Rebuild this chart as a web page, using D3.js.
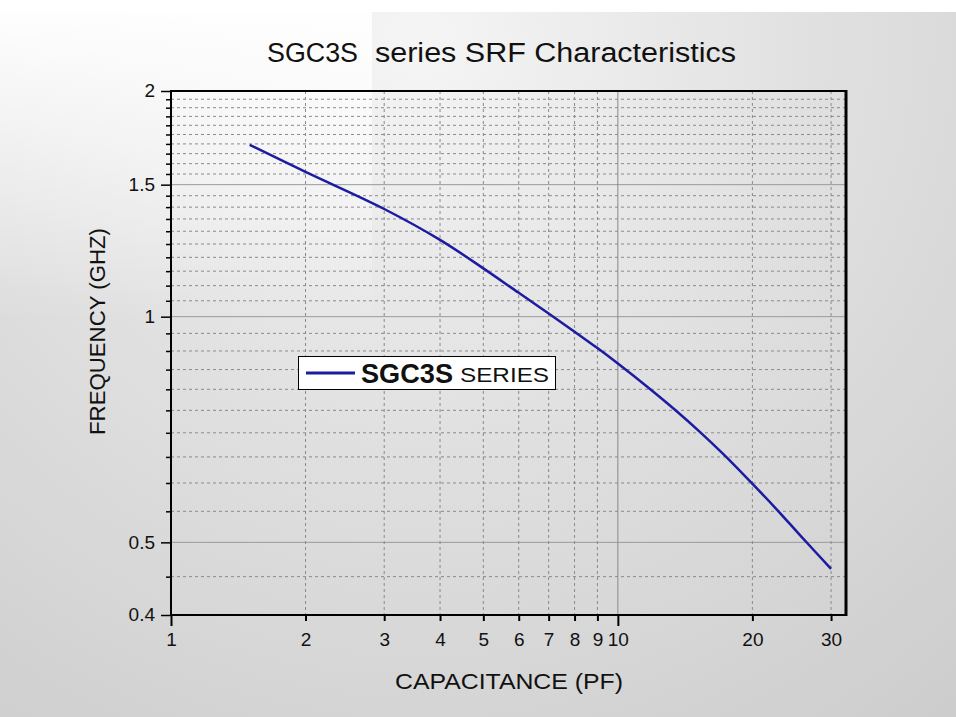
<!DOCTYPE html>
<html>
<head>
<meta charset="utf-8">
<script src="https://cdn.jsdelivr.net/npm/d3@7"></script>
<style>
  body { margin: 0; background: #fff; }
  text { font-family: "Liberation Sans", Arial, sans-serif; fill: #111; }
</style>
</head>
<body>
<svg width="956" height="717"></svg>
<script>
// values (log-log)
var capacitance = [1.5, 2, 3, 4, 5, 6, 7, 8, 9, 10, 11.8, 13.4, 15.3, 17.2, 19.4, 22.5, 25.8, 30];
var frequency   = [1.695, 1.560, 1.392, 1.266, 1.160, 1.076, 1.010, 0.955, 0.908, 0.866,
                   0.801, 0.752, 0.701, 0.656, 0.610, 0.556, 0.508, 0.461];

var xTicks = [1, 2, 3, 4, 5, 6, 7, 8, 9, 10, 20, 30];
var xMajor = [1, 10];
var yLabels = [0.4, 0.5, 1, 1.5, 2];
var yMinor = [0.45, 0.55, 0.6, 0.65, 0.7, 0.75, 0.8, 0.85, 0.9, 0.95,
              1.05, 1.1, 1.15, 1.2, 1.25, 1.3, 1.35, 1.4, 1.45,
              1.55, 1.6, 1.65, 1.7, 1.75, 1.8, 1.85, 1.9, 1.95];

var svg = d3.select("svg"),
    margin = {top: 91, right: 110, bottom: 102, left: 171},
    width = svg.attr("width") - margin.left - margin.right,
    height = svg.attr("height") - margin.top - margin.bottom;

// background
var defs = svg.append("defs");
var rg = defs.append("radialGradient").attr("id", "bg")
    .attr("gradientUnits", "userSpaceOnUse")
    .attr("cx", 420).attr("cy", 40).attr("r", 900);
rg.append("stop").attr("offset", 0).attr("stop-color", "#f5f5f5");
rg.append("stop").attr("offset", 0.45).attr("stop-color", "#e0e0e0");
rg.append("stop").attr("offset", 1).attr("stop-color", "#cbcbcb");
var lg = defs.append("linearGradient").attr("id", "fadeTop")
    .attr("x1", 0).attr("y1", 0).attr("x2", 0).attr("y2", 1);
lg.append("stop").attr("offset", 0).attr("stop-color", "#fff").attr("stop-opacity", 1);
lg.append("stop").attr("offset", 1).attr("stop-color", "#fff").attr("stop-opacity", 0);

svg.append("rect").attr("width", 956).attr("height", 717).attr("fill", "url(#bg)");
svg.append("rect").attr("width", 372).attr("height", 320).attr("fill", "url(#fadeTop)");
svg.append("rect").attr("width", 956).attr("height", 12).attr("fill", "#fff");

var g = svg.append("g").attr("transform", "translate(" + margin.left + "," + margin.top + ")");

var x = d3.scaleLog()
    .domain([1, 32.4])
    .range([0, width]);

var y = d3.scaleLog()
    .domain([0.4, 2])
    .range([height, 0]);

// grid
g.append("g").selectAll("line")
    .data(yMinor)
  .enter().append("line")
    .attr("x1", 0).attr("x2", width)
    .attr("y1", function(d) { return y(d); })
    .attr("y2", function(d) { return y(d); })
    .attr("stroke", "#8a8a8a").attr("stroke-dasharray", "3,3");

g.append("g").selectAll("line")
    .data(yLabels.slice(1, -1))
  .enter().append("line")
    .attr("x1", 0).attr("x2", width)
    .attr("y1", function(d) { return y(d); })
    .attr("y2", function(d) { return y(d); })
    .attr("stroke", "#9a9a9a");

g.append("g").selectAll("line")
    .data(xTicks.filter(function(d) { return xMajor.indexOf(d) < 0; }))
  .enter().append("line")
    .attr("y1", 0).attr("y2", height)
    .attr("x1", function(d) { return x(d); })
    .attr("x2", function(d) { return x(d); })
    .attr("stroke", "#8a8a8a").attr("stroke-dasharray", "3,3");

g.append("line")
    .attr("y1", 0).attr("y2", height)
    .attr("x1", x(10)).attr("x2", x(10))
    .attr("stroke", "#8a8a8a");

// axes
var xAxis = g.append("g")
    .attr("transform", "translate(0," + height + ")")
    .call(d3.axisBottom(x).tickValues(xTicks).tickFormat(d3.format("d")).tickSize(5));
xAxis.select(".domain").remove();
xAxis.selectAll(".tick line")
    .attr("stroke", "#000").attr("stroke-width", 2)
    .attr("y2", function(d) { return xMajor.indexOf(d) >= 0 ? 11 : 6; });
xAxis.selectAll(".tick text")
    .attr("y", 18).attr("dy", "0.71em")
    .style("font-size", "19px").style("font-family", null).attr("fill", "#111");

var yAxis = g.append("g")
    .call(d3.axisLeft(y).tickValues(yMinor.concat(yLabels))
      .tickFormat(function(d) { return yLabels.indexOf(d) >= 0 ? d : ""; })
      .tickSize(5));
yAxis.select(".domain").remove();
yAxis.selectAll(".tick line")
    .attr("stroke", "#000").attr("stroke-width", 1.5)
    .attr("x2", function(d) { return yLabels.indexOf(d) >= 0 ? -10 : -5; });
yAxis.selectAll(".tick text")
    .attr("x", -16).attr("dy", "0.3em")
    .style("font-size", "19px").style("font-family", null).attr("fill", "#111");

// frame
g.append("rect")
    .attr("width", width).attr("height", height)
    .attr("fill", "none").attr("stroke", "#000").attr("stroke-width", 2);
g.append("line")
    .attr("x1", width).attr("x2", width).attr("y1", -1).attr("y2", height + 1)
    .attr("stroke", "#000").attr("stroke-width", 3);

// curve
var line = d3.line()
    .x(function(d) { return x(d[0]); })
    .y(function(d) { return y(d[1]); })
    .curve(d3.curveCatmullRom.alpha(0.5));

g.append("path")
    .datum(d3.zip(capacitance, frequency))
    .attr("fill", "none")
    .attr("stroke", "#1c1ca2")
    .attr("stroke-width", 2.5)
    .attr("stroke-linejoin", "round")
    .attr("d", line);

// legend
var legend = svg.append("g");
legend.append("rect")
    .attr("x", 298.5).attr("y", 356.5).attr("width", 257).attr("height", 33)
    .attr("fill", "#fff").attr("stroke", "#000").attr("stroke-width", 1);
legend.append("line")
    .attr("x1", 306).attr("x2", 355).attr("y1", 373).attr("y2", 373)
    .attr("stroke", "#1c1ca2").attr("stroke-width", 3);
legend.append("text")
    .attr("x", 361).attr("y", 383)
    .style("font-size", "27px").style("font-weight", "bold")
    .attr("textLength", 92).attr("lengthAdjust", "spacingAndGlyphs")
    .text("SGC3S");
legend.append("text")
    .attr("x", 460).attr("y", 382)
    .style("font-size", "21px")
    .attr("textLength", 89).attr("lengthAdjust", "spacingAndGlyphs")
    .text("SERIES");

// titles
svg.append("text")
    .attr("x", 267).attr("y", 62)
    .style("font-size", "27px")
    .attr("textLength", 91).attr("lengthAdjust", "spacingAndGlyphs")
    .text("SGC3S");
svg.append("text")
    .attr("x", 375).attr("y", 62)
    .style("font-size", "27px")
    .attr("textLength", 361).attr("lengthAdjust", "spacingAndGlyphs")
    .text("series SRF Characteristics");

svg.append("text")
    .attr("x", 395).attr("y", 689)
    .style("font-size", "22px")
    .attr("textLength", 228).attr("lengthAdjust", "spacingAndGlyphs")
    .text("CAPACITANCE (PF)");

svg.append("text")
    .attr("transform", "translate(105,331.5) rotate(-90)")
    .attr("text-anchor", "middle")
    .style("font-size", "22px")
    .attr("textLength", 207).attr("lengthAdjust", "spacingAndGlyphs")
    .text("FREQUENCY (GHZ)");
</script>
</body>
</html>
